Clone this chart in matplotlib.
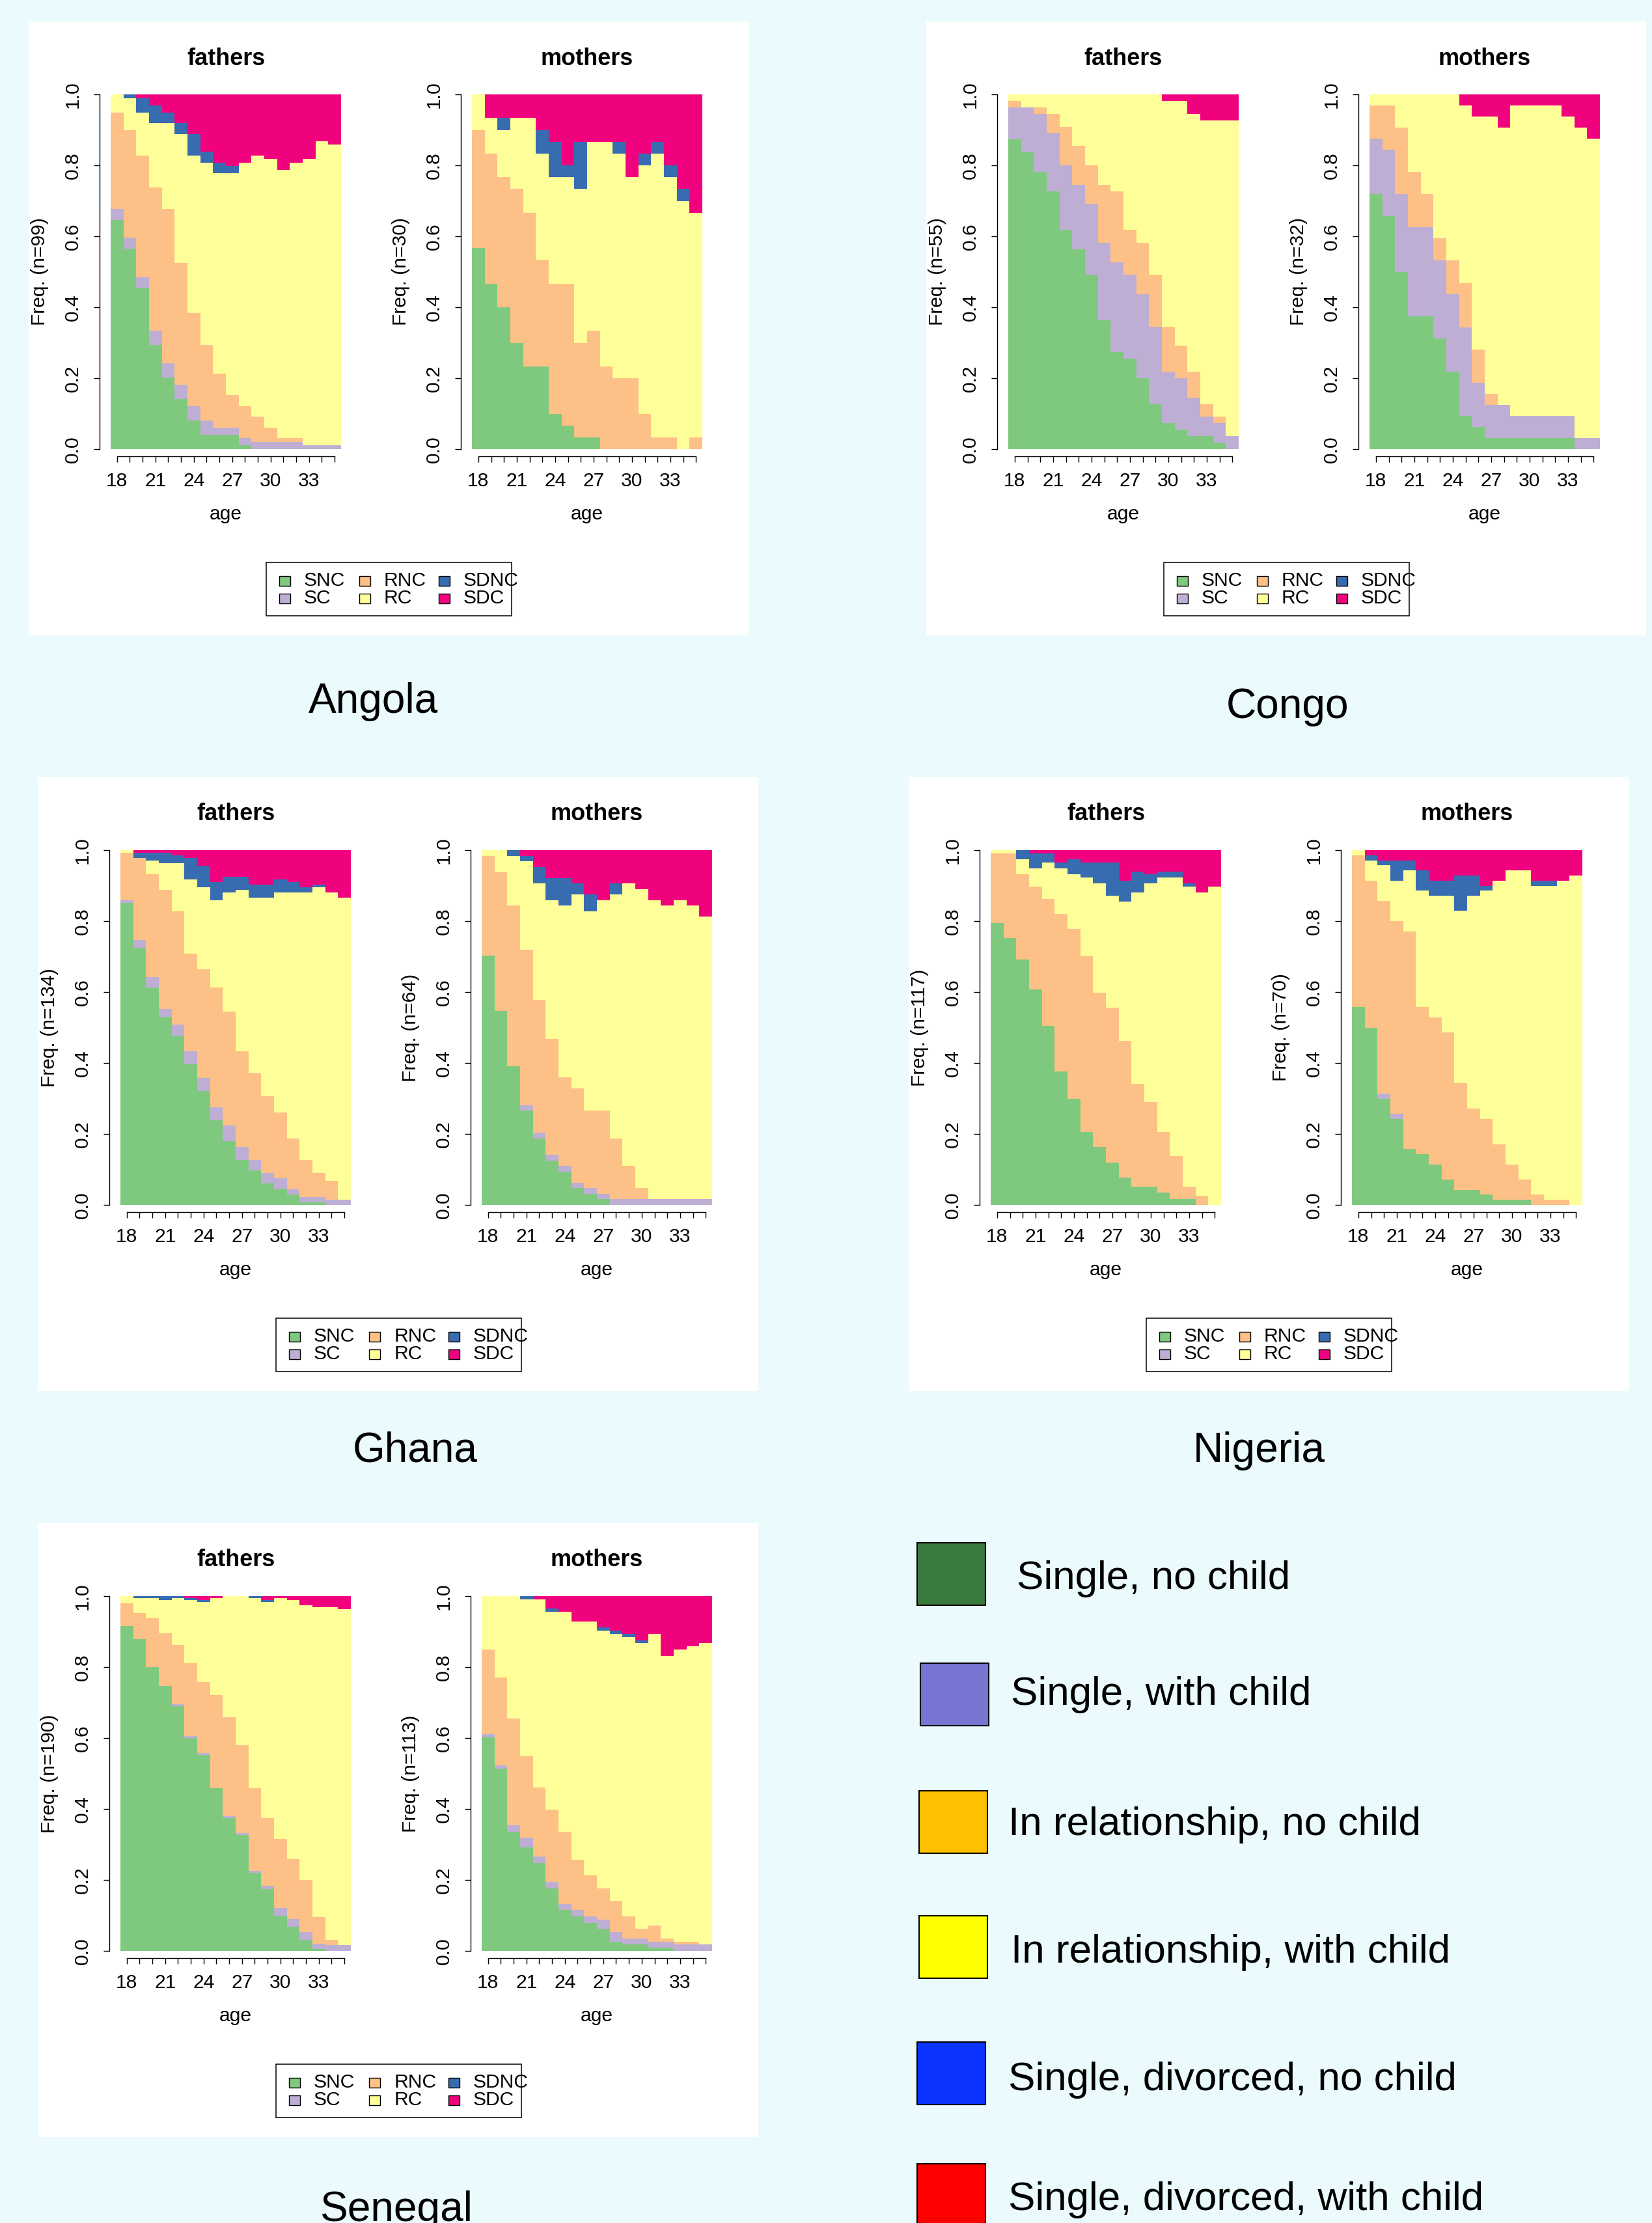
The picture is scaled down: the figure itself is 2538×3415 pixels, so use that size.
import matplotlib
matplotlib.use('Agg')
import matplotlib.pyplot as plt
from matplotlib.patches import Rectangle
from matplotlib import font_manager
import numpy as np

plt.rcParams['font.family'] = ['Liberation Sans', 'DejaVu Sans']

# ---------------- data ----------------
ages = list(range(18, 36))
age_labels = ['18', '', '', '21', '', '', '24', '', '', '27', '', '', '30', '', '', '33', '', '']
freq_ticks = [0.0, 0.2, 0.4, 0.6, 0.8, 1.0]
freq_labels = ['0.0', '0.2', '0.4', '0.6', '0.8', '1.0']
states = ['SNC', 'SC', 'RNC', 'RC', 'SDNC', 'SDC']
state_colors = ['#7FC97F', '#BEAED4', '#FDC086', '#FFFF99', '#386CB0', '#F0027F']
countries = ['Angola', 'Congo', 'Ghana', 'Nigeria', 'Senegal']
n_fathers = [99, 55, 134, 117, 190]
n_mothers = [30, 32, 64, 70, 113]
big_legend_labels = ['Single, no child', 'Single, with child', 'In relationship, no child',
                     'In relationship, with child', 'Single, divorced, no child',
                     'Single, divorced, with child']
big_legend_colors = ['#3B7A3D', '#7675D1', '#FFC000', '#FFFF00', '#0A33FF', '#FF0000']

# counts per age (rows) for states SNC, SC, RNC, RC, SDNC, SDC
angola_fathers = [
    [64, 3, 27, 5, 0, 0], [56, 3, 30, 9, 1, 0], [45, 3, 34, 12, 4, 1], [29, 4, 40, 18, 5, 3],
    [20, 4, 43, 24, 3, 5], [14, 4, 34, 36, 3, 8], [8, 4, 26, 44, 6, 11], [4, 4, 21, 51, 3, 16],
    [4, 2, 15, 56, 3, 19], [4, 2, 9, 62, 2, 20], [1, 2, 9, 68, 0, 19], [0, 2, 7, 73, 0, 17],
    [0, 2, 4, 75, 0, 18], [0, 2, 1, 75, 0, 21], [0, 2, 1, 77, 0, 19], [0, 1, 0, 80, 0, 18],
    [0, 1, 0, 85, 0, 13], [0, 1, 0, 84, 0, 14]]
angola_mothers = [
    [17, 0, 10, 3, 0, 0], [14, 0, 11, 3, 0, 2], [12, 0, 11, 4, 1, 2], [9, 0, 13, 6, 0, 2],
    [7, 0, 13, 8, 0, 2], [7, 0, 9, 9, 2, 3], [3, 0, 11, 9, 3, 4], [2, 0, 12, 9, 1, 6],
    [1, 0, 8, 13, 4, 4], [1, 0, 9, 16, 0, 4], [0, 0, 7, 19, 0, 4], [0, 0, 6, 19, 1, 4],
    [0, 0, 6, 17, 0, 7], [0, 0, 3, 21, 1, 5], [0, 0, 1, 24, 1, 4], [0, 0, 1, 22, 1, 6],
    [0, 0, 0, 21, 1, 8], [0, 0, 1, 19, 0, 10]]
congo_fathers = [
    [48, 5, 1, 1, 0, 0], [46, 7, 0, 2, 0, 0], [43, 9, 1, 2, 0, 0], [40, 9, 3, 3, 0, 0],
    [34, 10, 6, 5, 0, 0], [31, 10, 6, 8, 0, 0], [27, 11, 6, 11, 0, 0], [20, 12, 9, 14, 0, 0],
    [15, 14, 11, 15, 0, 0], [14, 13, 7, 21, 0, 0], [11, 13, 8, 23, 0, 0], [7, 12, 8, 28, 0, 0],
    [4, 8, 7, 35, 0, 1], [3, 8, 5, 38, 0, 1], [2, 6, 4, 40, 0, 3], [2, 3, 2, 44, 0, 4],
    [1, 3, 1, 46, 0, 4], [0, 2, 0, 49, 0, 4]]
congo_mothers = [
    [23, 5, 3, 1, 0, 0], [21, 6, 4, 1, 0, 0], [16, 7, 6, 3, 0, 0], [12, 8, 5, 7, 0, 0],
    [12, 8, 3, 9, 0, 0], [10, 7, 2, 13, 0, 0], [7, 7, 3, 15, 0, 0], [3, 8, 4, 16, 0, 1],
    [2, 4, 3, 21, 0, 2], [1, 3, 1, 25, 0, 2], [1, 3, 0, 25, 0, 3], [1, 2, 0, 28, 0, 1],
    [1, 2, 0, 28, 0, 1], [1, 2, 0, 28, 0, 1], [1, 2, 0, 28, 0, 1], [1, 2, 0, 27, 0, 2],
    [0, 1, 0, 28, 0, 3], [0, 1, 0, 27, 0, 4]]
ghana_fathers = [
    [114, 1, 18, 1, 0, 0], [97, 3, 31, 0, 2, 1], [82, 4, 39, 5, 3, 1], [71, 3, 45, 10, 4, 1],
    [64, 4, 43, 18, 3, 2], [53, 5, 37, 28, 8, 3], [43, 5, 41, 31, 8, 6], [32, 5, 45, 33, 7, 12],
    [24, 6, 43, 45, 6, 10], [17, 5, 36, 61, 5, 10], [13, 4, 33, 66, 5, 13], [8, 4, 29, 75, 5, 13],
    [6, 4, 25, 83, 5, 11], [4, 2, 19, 93, 4, 12], [1, 2, 14, 101, 2, 14], [1, 2, 9, 108, 1, 13],
    [0, 2, 7, 109, 0, 16], [0, 2, 0, 114, 0, 18]]
ghana_mothers = [
    [45, 0, 18, 1, 0, 0], [35, 0, 25, 4, 0, 0], [25, 0, 29, 9, 1, 0], [17, 1, 28, 16, 1, 1],
    [12, 1, 24, 21, 3, 3], [8, 1, 21, 25, 4, 5], [6, 1, 16, 31, 5, 5], [3, 1, 17, 35, 2, 6],
    [2, 1, 14, 36, 3, 8], [1, 1, 15, 38, 0, 9], [0, 1, 11, 44, 2, 6], [0, 1, 6, 51, 0, 6],
    [0, 1, 2, 54, 0, 7], [0, 1, 0, 54, 0, 9], [0, 1, 0, 53, 0, 10], [0, 1, 0, 54, 0, 9],
    [0, 1, 0, 53, 0, 10], [0, 1, 0, 51, 0, 12]]
nigeria_fathers = [
    [93, 0, 23, 1, 0, 0], [88, 0, 28, 1, 0, 0], [81, 0, 28, 5, 3, 0], [71, 0, 34, 6, 5, 1],
    [59, 0, 42, 12, 3, 1], [44, 0, 52, 15, 2, 4], [35, 0, 56, 18, 5, 3], [24, 0, 58, 26, 5, 4],
    [19, 0, 51, 36, 7, 4], [14, 0, 51, 37, 11, 4], [9, 0, 45, 46, 7, 10], [6, 0, 34, 63, 7, 7],
    [6, 0, 28, 72, 3, 8], [4, 0, 20, 84, 2, 7], [2, 0, 14, 92, 2, 7], [2, 0, 4, 99, 1, 11],
    [0, 0, 3, 100, 0, 14], [0, 0, 0, 105, 0, 12]]
nigeria_mothers = [
    [39, 0, 30, 1, 0, 0], [35, 0, 29, 4, 1, 1], [21, 1, 38, 7, 1, 2], [17, 1, 38, 8, 4, 2],
    [11, 0, 43, 12, 2, 2], [10, 0, 29, 23, 4, 4], [8, 0, 29, 24, 3, 6], [5, 0, 29, 27, 3, 6],
    [3, 0, 21, 34, 7, 5], [3, 0, 16, 42, 4, 5], [2, 0, 15, 45, 1, 7], [1, 0, 11, 52, 0, 6],
    [1, 0, 7, 58, 0, 4], [1, 0, 4, 61, 0, 4], [0, 0, 2, 61, 1, 6], [0, 0, 1, 62, 1, 6],
    [0, 0, 1, 63, 0, 6], [0, 0, 0, 65, 0, 5]]
senegal_fathers = [
    [174, 0, 12, 4, 0, 0], [167, 0, 14, 8, 1, 0], [152, 0, 26, 11, 1, 0], [142, 0, 28, 18, 2, 0],
    [131, 1, 32, 25, 1, 0], [114, 1, 39, 34, 1, 1], [105, 1, 38, 43, 1, 2], [87, 0, 50, 52, 0, 1],
    [71, 1, 53, 65, 0, 0], [62, 1, 47, 80, 0, 0], [42, 1, 44, 102, 1, 0], [33, 2, 36, 116, 1, 2],
    [19, 4, 37, 129, 0, 1], [13, 4, 32, 139, 0, 2], [6, 4, 28, 147, 0, 5], [1, 3, 14, 166, 0, 6],
    [0, 3, 3, 178, 0, 6], [0, 3, 0, 180, 0, 7]]
senegal_mothers = [
    [68, 1, 27, 17, 0, 0], [58, 1, 28, 26, 0, 0], [38, 2, 34, 39, 0, 0], [33, 3, 26, 50, 1, 0],
    [28, 2, 22, 60, 0, 1], [20, 2, 23, 63, 1, 4], [13, 2, 23, 70, 0, 5], [11, 2, 16, 76, 0, 8],
    [9, 2, 13, 81, 0, 8], [7, 3, 10, 82, 1, 10], [3, 3, 10, 85, 1, 11], [2, 2, 7, 89, 1, 12],
    [2, 2, 3, 91, 1, 14], [1, 2, 5, 93, 0, 12], [1, 2, 1, 90, 0, 19], [0, 2, 1, 93, 0, 17],
    [0, 2, 1, 94, 0, 16], [0, 2, 0, 96, 0, 15]]

fathers_data = [angola_fathers, congo_fathers, ghana_fathers, nigeria_fathers, senegal_fathers]
mothers_data = [angola_mothers, congo_mothers, ghana_mothers, nigeria_mothers, senegal_mothers]

# ---------------- layout ----------------
W, H, DPI = 2538, 3415, 100
PT = 72.0 / DPI
BG = '#EBFAFD'
fig = plt.figure(figsize=(W / DPI, H / DPI), dpi=DPI)
fig.patch.set_facecolor(BG)

BASE = 30 * PT
TITLE = 36 * PT

available = {f.name for f in font_manager.fontManager.ttflist}
if 'Liberation Sans Narrow' in available:
    narrow_family = ['Liberation Sans Narrow', 'DejaVu Sans']
    big_size = 74 * PT
else:
    narrow_family = ['Liberation Sans', 'DejaVu Sans']
    big_size = 62 * PT


def fx(x):
    return x / W


def fy(y):
    return 1 - y / H


def ftext(x, y, s, **kw):
    fig.text(fx(x), fy(y), s, **kw)


def frect(x, y, w, h, **kw):
    r = Rectangle((fx(x), fy(y + h)), w / W, h / H, transform=fig.transFigure, **kw)
    fig.add_artist(r)
    return r


panel_origins = [(44, 33), (1423, 33), (59, 1194), (1396, 1194), (59, 2340)]
label_pos = [(573, 1078), (1978, 1086), (638, 2229), (1934, 2229), (608, 3395)]
PW, PH = 1106, 943
BAR_TOP, BAR_H, BAR_W = 112, 545, 354
SUB_X = [126, 681]


def draw_sub(px, py, data, n, title):
    ax = fig.add_axes([fx(px), fy(py + BAR_H), BAR_W / W, BAR_H / H])
    ax.set_facecolor('none')
    arr = np.array(data, dtype=float) / n
    bottom = np.zeros(len(ages))
    for j in range(len(states)):
        ax.bar(ages, arr[:, j], width=1.0, bottom=bottom, color=state_colors[j],
               linewidth=0, antialiased=False, zorder=2)
        bottom = bottom + arr[:, j]
    ax.set_xlim(17.5, 35.5)
    ax.set_ylim(0, 1)
    for s in ['top', 'right']:
        ax.spines[s].set_visible(False)
    ax.spines['left'].set_position(('outward', 17 * PT))
    ax.spines['left'].set_bounds(0, 1)
    ax.spines['bottom'].set_position(('outward', 11 * PT))
    ax.spines['bottom'].set_bounds(ages[0], ages[-1])
    for s in ['left', 'bottom']:
        ax.spines[s].set_linewidth(1.0)
    ax.set_xticks(ages)
    ax.set_xticklabels(age_labels)
    ax.set_yticks(freq_ticks)
    ax.set_yticklabels(freq_labels, rotation=90, va='center')
    ax.tick_params(axis='both', length=9 * PT, width=1.0, labelsize=BASE, colors='black')
    ax.tick_params(axis='x', pad=11)
    ax.tick_params(axis='y', pad=13)
    cx = px + BAR_W / 2
    ftext(cx, py - 55, title, ha='center', va='center', fontsize=TITLE, fontweight='bold')
    ftext(cx, py + BAR_H + 100, 'age', ha='center', va='center', fontsize=BASE)
    ftext(px - 109, py + BAR_H / 2, 'Freq. (n=%d)' % n, ha='center', va='center',
          rotation=90, fontsize=BASE)


for i, c in enumerate(countries):
    ox, oy = panel_origins[i]
    frect(ox, oy, PW, PH, facecolor='white', edgecolor='none', zorder=-10)
    draw_sub(ox + SUB_X[0], oy + BAR_TOP, fathers_data[i], n_fathers[i], 'fathers')
    draw_sub(ox + SUB_X[1], oy + BAR_TOP, mothers_data[i], n_mothers[i], 'mothers')
    # small legend
    lx, ly = ox + 365, oy + 831
    frect(lx, ly, 377, 82, facecolor='white', edgecolor='black', linewidth=1.1, zorder=3)
    col_sq = [20, 143, 265]
    col_tx = [58, 181, 303]
    row_y = [28, 55]
    for k, st in enumerate(states):
        col, row = k // 2, k % 2
        frect(lx + col_sq[col], ly + row_y[row] - 7.5, 17, 15, facecolor=state_colors[k],
              edgecolor='black', linewidth=1.0, zorder=4)
        ftext(lx + col_tx[col], ly + row_y[row], st, ha='left', va='center', fontsize=BASE,
              zorder=5)
    tx, ty = label_pos[i]
    ftext(tx, ty, c, ha='center', va='center', fontsize=64 * PT)

# big legend
sq_x = [1409, 1414, 1412, 1412, 1409, 1409]
sq_y = [2370, 2555, 2751, 2943, 3137, 3324]
tx_x = [1562, 1553, 1549, 1553, 1549, 1549]
tx_y = [2426, 2603, 2803, 2999, 3195, 3380]
for k, lab in enumerate(big_legend_labels):
    frect(sq_x[k], sq_y[k], 105, 96, facecolor=big_legend_colors[k], edgecolor='black',
          linewidth=1.5)
    ftext(tx_x[k], tx_y[k], lab, ha='left', va='center', fontsize=big_size,
          family=narrow_family)

fig.savefig('out.png', dpi=DPI, facecolor=BG)
